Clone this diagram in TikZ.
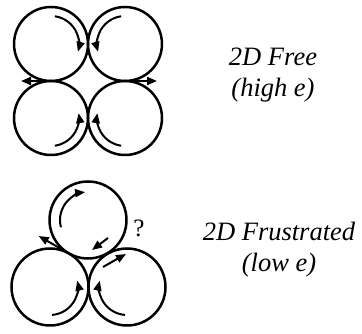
\documentclass[tikz,border=0pt]{standalone}
\usepackage{fontspec}
\setmainfont{Liberation Serif}
\usetikzlibrary{arrows.meta,calc}

\begin{document}
\begin{tikzpicture}[x=1pt,y=1pt]
    \tikzset{grain/.style={circle,draw,line width=2.5pt,inner sep=0pt},
      spin/.style={-{Triangle[length=10pt,width=8pt]},line width=2pt},
      caption/.style={align=center,font=\fontsize{26.5}{31}\selectfont\itshape}}
    \useasboundingbox (0,0) rectangle (362,334);
    % free square packing
    \node[grain,minimum size=74pt] (a) at (51,290) {};
    \node[grain,minimum size=74pt] (b) at (125,290) {};
    \node[grain,minimum size=74pt] (c) at (51,216) {};
    \node[grain,minimum size=74pt] (d) at (125,216) {};
    \draw[spin] ([shift={(82:28)}]a.center) arc[start angle=82,end angle=-16,radius=28];
    \draw[spin] ([shift={(98:28)}]b.center) arc[start angle=98,end angle=196,radius=28];
    \draw[spin] ([shift={(-82:28)}]c.center) arc[start angle=-82,end angle=10,radius=28];
    \draw[spin] ([shift={(262:28)}]d.center) arc[start angle=262,end angle=170,radius=28];
    \coordinate (ac) at ($(a)!0.5!(c)$);
    \coordinate (bd) at ($(b)!0.5!(d)$);
    \draw[spin] (ac) -- ++(-30,0);
    \draw[spin] (bd) -- ++(32,0);
    \node[caption] (free) at (273,259) {2D Free\\(high e)};
    % frustrated triangle
    \node[grain,minimum size=77pt] (t) at (88,114) {};
    \node[grain,minimum size=77pt] (l) at (50,47) {};
    \node[grain,minimum size=77pt] (r) at (127,47) {};
    \draw[spin] ([shift={(195:28)}]t.center) arc[start angle=195,end angle=96,radius=28];
    \draw[spin] ([shift={(20,-18)}]t.center) -- ([shift={(4,-30)}]t.center);
    \draw[spin] ([shift={(-86:28)}]l.center) arc[start angle=-86,end angle=13,radius=28];
    \draw[spin] ([shift={(266:28)}]r.center) arc[start angle=266,end angle=167,radius=28];
    \coordinate (tl) at ($(t)!0.5!(l)$);
    \draw[spin] (tl) -- ++(150:35);
    \draw[spin] ([shift={(-24,20)}]r.center) -- ([shift={(-1,33)}]r.center);
    \node[font=\fontsize{25}{28}\selectfont] (ask) at (139,106) {?};
    \node[caption] (frus) at (279,84) {2D Frustrated\\(low e)};
  \end{tikzpicture}
\end{document}
